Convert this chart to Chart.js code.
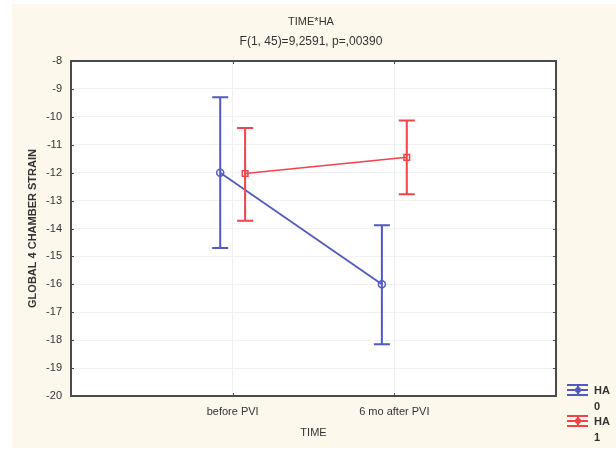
<!DOCTYPE html>
<html>
<head>
<meta charset="utf-8">
<script src="https://cdn.jsdelivr.net/npm/chart.js@4.4.1/dist/chart.umd.min.js"></script>
<style>
    html, body { margin: 0; padding: 0; background: #fff; }
    #wrap { width: 616px; height: 450px; }
</style>
</head>
<body>
<div id="wrap"><canvas id="chart" width="616" height="450"></canvas></div>
<script>
// categories on the TIME axis
var categories = ['before PVI', '6 mo after PVI'];
var yTicks = [-8, -9, -10, -11, -12, -13, -14, -15, -16, -17, -18, -19, -20];

// HA = 0 (blue)
var ha0Mean = [-12.0, -16.0];
var ha0Upper = [-9.3, -13.88];
var ha0Lower = [-14.7, -18.15];

// HA = 1 (red)
var ha1Mean = [-12.03, -11.45];
var ha1Upper = [-10.4, -10.13];
var ha1Lower = [-13.72, -12.77];

var blue = '#5259c2';
var red = '#f2434a';
var textColor = '#333333';
var jitter = 0.077; // groups are drawn a little apart around each category

function points(means, shift) {
    return means.map(function (v, i) {
        return {x: i + 1 + shift, y: v};
    });
}

var errorBars = {
    id: 'errorBars',
    afterDatasetsDraw: function (chart) {
        var ctx = chart.ctx;
        var xs = chart.scales.x, ys = chart.scales.y;
        chart.data.datasets.forEach(function (ds) {
            ctx.save();
            ctx.strokeStyle = ds.borderColor;
            ctx.lineWidth = 2;
            ds.data.forEach(function (p, i) {
                var x = xs.getPixelForValue(p.x);
                var top = ys.getPixelForValue(ds.upper[i]);
                var bot = ys.getPixelForValue(ds.lower[i]);
                ctx.beginPath();
                ctx.moveTo(x, top); ctx.lineTo(x, bot);
                ctx.moveTo(x - 8, top); ctx.lineTo(x + 8, top);
                ctx.moveTo(x - 8, bot); ctx.lineTo(x + 8, bot);
                ctx.stroke();
            });
            ctx.restore();
        });
    }
};

var frame = {
    id: 'frame',
    beforeDraw: function (chart) {
        var ctx = chart.ctx, a = chart.chartArea;
        ctx.save();
        ctx.fillStyle = '#ffffff';
        ctx.fillRect(0, 0, chart.width, chart.height);
        ctx.fillStyle = '#fcf8ec';
        ctx.fillRect(12, 4, chart.width - 12, chart.height - 6);
        ctx.fillStyle = '#ffffff';
        ctx.fillRect(a.left, a.top, a.right - a.left, a.bottom - a.top);
        ctx.restore();
    },
    afterDraw: function (chart) {
        var ctx = chart.ctx, a = chart.chartArea;
        var xs = chart.scales.x, ys = chart.scales.y;
        ctx.save();
        // plot border
        ctx.strokeStyle = '#4a4a4a';
        ctx.lineWidth = 2;
        ctx.strokeRect(a.left, a.top, a.right - a.left, a.bottom - a.top);
        // small inner tick marks
        ctx.lineWidth = 1;
        ctx.beginPath();
        yTicks.forEach(function (t) {
            var y = Math.round(ys.getPixelForValue(t)) + 0.5;
            ctx.moveTo(a.left, y); ctx.lineTo(a.left + 3, y);
            ctx.moveTo(a.right, y); ctx.lineTo(a.right - 3, y);
        });
        categories.forEach(function (c, i) {
            var x = Math.round(xs.getPixelForValue(i + 1)) + 0.5;
            ctx.moveTo(x, a.bottom); ctx.lineTo(x, a.bottom - 3);
            ctx.moveTo(x, a.top); ctx.lineTo(x, a.top + 3);
        });
        ctx.stroke();

        // titles
        ctx.fillStyle = textColor;
        ctx.textAlign = 'center';
        ctx.textBaseline = 'middle';
        ctx.font = '11px "Liberation Sans", Arial, sans-serif';
        ctx.fillText('TIME*HA', 311, 22);
        ctx.font = '12px "Liberation Sans", Arial, sans-serif';
        ctx.fillText('F(1, 45)=9,2591, p=,00390', 311, 42);

        // legend
        var items = [
            {color: blue, label: 'HA', sub: '0', y: 390},
            {color: red, label: 'HA', sub: '1', y: 421}
        ];
        items.forEach(function (it) {
            ctx.strokeStyle = it.color;
            ctx.fillStyle = it.color;
            ctx.lineWidth = 2;
            ctx.beginPath();
            ctx.moveTo(567, it.y - 5); ctx.lineTo(588, it.y - 5);
            ctx.moveTo(567, it.y); ctx.lineTo(588, it.y);
            ctx.moveTo(567, it.y + 5); ctx.lineTo(588, it.y + 5);
            ctx.moveTo(578, it.y - 5); ctx.lineTo(578, it.y + 5);
            ctx.stroke();
            ctx.beginPath();
            ctx.arc(578, it.y, 3, 0, Math.PI * 2);
            ctx.fill();
            ctx.fillStyle = textColor;
            ctx.textAlign = 'left';
            ctx.font = 'bold 11px "Liberation Sans", Arial, sans-serif';
            ctx.fillText(it.label, 594, it.y + 1);
            ctx.fillText(it.sub, 594, it.y + 17);
        });
        ctx.restore();
    }
};

var chartData = {
    datasets: [
        {
            label: 'HA 0',
            data: points(ha0Mean, -jitter),
            upper: ha0Upper,
            lower: ha0Lower,
            borderColor: blue,
            backgroundColor: 'rgba(255,255,255,0)',
            borderWidth: 1.8,
            showLine: true,
            pointStyle: 'circle',
            pointRadius: 3.5,
            pointBorderWidth: 1.5
        },
        {
            label: 'HA 1',
            data: points(ha1Mean, jitter),
            upper: ha1Upper,
            lower: ha1Lower,
            borderColor: red,
            backgroundColor: 'rgba(255,255,255,0)',
            borderWidth: 1.5,
            showLine: true,
            pointStyle: 'rect',
            pointRadius: 4,
            pointBorderWidth: 1.5
        }
    ]
};

new Chart(document.getElementById('chart').getContext('2d'), {
    type: 'scatter',
    data: chartData,
    options: {
        responsive: false,
        animation: false,
        layout: {
            padding: {left: 0, right: 60, top: 61, bottom: 0}
        },
        plugins: {
            legend: {display: false},
            tooltip: {enabled: false}
        },
        scales: {
            x: {
                type: 'linear',
                min: 0,
                max: 3,
                afterFit: function (scale) { scale.height = 54; },
                afterBuildTicks: function (scale) {
                    scale.ticks = [0, 1, 2, 3].map(function (v) { return {value: v}; });
                },
                grid: {
                    color: function (c) {
                        return (c.tick && (c.tick.value === 1 || c.tick.value === 2)) ? '#f0f0f0' : 'rgba(0,0,0,0)';
                    },
                    drawTicks: false
                },
                border: {display: false},
                ticks: {
                    padding: 9,
                    color: textColor,
                    font: {family: '"Liberation Sans", Arial, sans-serif', size: 11},
                    callback: function (v) { return categories[v - 1] || ''; }
                },
                title: {
                    display: true,
                    text: 'TIME',
                    color: textColor,
                    font: {family: '"Liberation Sans", Arial, sans-serif', size: 11},
                    padding: {top: 0, bottom: 10}
                }
            },
            y: {
                min: -20,
                max: -8,
                afterFit: function (scale) { scale.width = 71; },
                ticks: {
                    stepSize: 1,
                    padding: 9,
                    color: textColor,
                    font: {family: '"Liberation Sans", Arial, sans-serif', size: 11}
                },
                grid: {
                    color: '#f2f2f2',
                    drawTicks: false
                },
                border: {display: false},
                title: {
                    display: true,
                    text: 'GLOBAL 4 CHAMBER STRAIN',
                    color: textColor,
                    font: {family: '"Liberation Sans", Arial, sans-serif', size: 11, weight: 'bold'},
                    padding: {top: 26, bottom: 0}
                }
            }
        }
    },
    plugins: [frame, errorBars]
});
</script>
</body>
</html>
